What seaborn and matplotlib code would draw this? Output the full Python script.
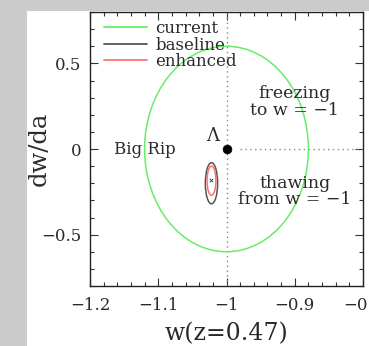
import matplotlib
matplotlib.use("Agg")
import matplotlib.pyplot as plt
from matplotlib.patches import Ellipse, Rectangle
from matplotlib.lines import Line2D
from matplotlib.ticker import MultipleLocator
import pandas as pd
import seaborn as sns

# ellipse data: (name, colour, centre w, centre dw/da, full width, full height)
ell_names = ["current", "baseline", "enhanced"]
ell_colors = ["#66ee66", "#555555", "#ff6f6f"]
ell_cx = [-1.0, -1.022, -1.022]
ell_cy = [0.0, -0.20, -0.185]
ell_w = [0.24, 0.018, 0.013]
ell_h = [1.20, 0.24, 0.17]

# fiducial points
lam_w, lam_wa = -1.0, 0.0
fid_w, fid_wa = -1.022, -0.18

xticks = [-1.2, -1.1, -1.0, -0.9, -0.8]
xlabels = ["\u22121.2", "\u22121.1", "\u22121", "\u22120.9", "\u22120.8"]
yticks = [-0.5, 0.0, 0.5]
ylabels = ["\u22120.5", "0", "0.5"]

sns.set_theme(style="ticks")
plt.rcParams["font.family"] = ["DejaVu Serif", "DejaVu Sans"]

txt = "#2a2a2a"
fig = plt.figure(figsize=(3.69, 3.46), dpi=100)
fig.patch.set_facecolor("#cbcbcb")
fig.patches.append(Rectangle((27 / 369, 0), 1, 1 - 11 / 346, transform=fig.transFigure,
                             facecolor="white", edgecolor="none", zorder=-10))

ax = fig.add_axes([90 / 369, 1 - 286 / 346, 273 / 369, 274 / 346])
ax.set_xlim(-1.2, -0.8)
ax.set_ylim(-0.8, 0.8)

# dotted guide lines through Lambda
ax.axvline(-1.0, color="#888888", ls=(0, (1, 2.5)), lw=1.0, zorder=1)
ax.plot([-0.98, -0.8], [0, 0], color="#888888", ls=(0, (1, 2.5)), lw=1.0, zorder=1)

for name, c, cx, cy, w, h in zip(ell_names, ell_colors, ell_cx, ell_cy, ell_w, ell_h):
    ax.add_patch(Ellipse((cx, cy), w, h, fill=False, edgecolor=c, lw=1.1, zorder=3))

pts = pd.DataFrame({"w": [lam_w], "wa": [lam_wa]})
sns.scatterplot(data=pts, x="w", y="wa", color="black", s=40, ax=ax, zorder=5, edgecolor="black")
fid = pd.DataFrame({"w": [fid_w], "wa": [fid_wa]})
sns.scatterplot(data=fid, x="w", y="wa", color="#333333", marker="x", s=6, linewidth=0.6, ax=ax, zorder=5)

ax.text(-1.021, 0.075, "\u039b", fontsize=13, ha="center", va="center", color=txt)
ax.text(-1.12, 0.0, "Big Rip", fontsize=12, ha="center", va="center", color=txt)
ax.text(-0.9, 0.275, "freezing\nto w = \u22121", fontsize=12.5, ha="center", va="center",
        color=txt, linespacing=0.95)
ax.text(-0.9, -0.25, "thawing\nfrom w = \u22121", fontsize=12.5, ha="center", va="center",
        color=txt, linespacing=0.95)

handles = [Line2D([], [], color=c, lw=1.3) for c in ell_colors]
ax.legend(handles, ell_names, loc="upper left", frameon=False, fontsize=12,
          handlelength=2.6, handletextpad=0.5, labelspacing=-0.05,
          borderaxespad=0.2, borderpad=0.3, labelcolor=txt,
          bbox_to_anchor=(0.02, 1.0))

ax.set_xticks(xticks)
ax.set_xticklabels(xlabels)
ax.set_yticks(yticks)
ax.set_yticklabels(ylabels)
ax.xaxis.set_minor_locator(MultipleLocator(0.02))
ax.yaxis.set_minor_locator(MultipleLocator(0.1))
ax.tick_params(which="both", direction="in", top=True, right=True, colors="#333333",
               labelcolor=txt, labelsize=12, width=0.8)
ax.tick_params(which="major", length=6)
ax.tick_params(axis="x", which="major", pad=8)
ax.tick_params(axis="y", which="major", pad=6)
ax.tick_params(which="minor", length=3)
for s in ax.spines.values():
    s.set_color("#222222")
    s.set_linewidth(1.0)

ax.set_xlabel("w(z=0.47)", fontsize=17, color=txt, labelpad=6)
ax.set_ylabel("dw/da", fontsize=17.5, color=txt)
ax.yaxis.set_label_coords(-0.145, 0.5)

fig.savefig("out.png", dpi=100)
